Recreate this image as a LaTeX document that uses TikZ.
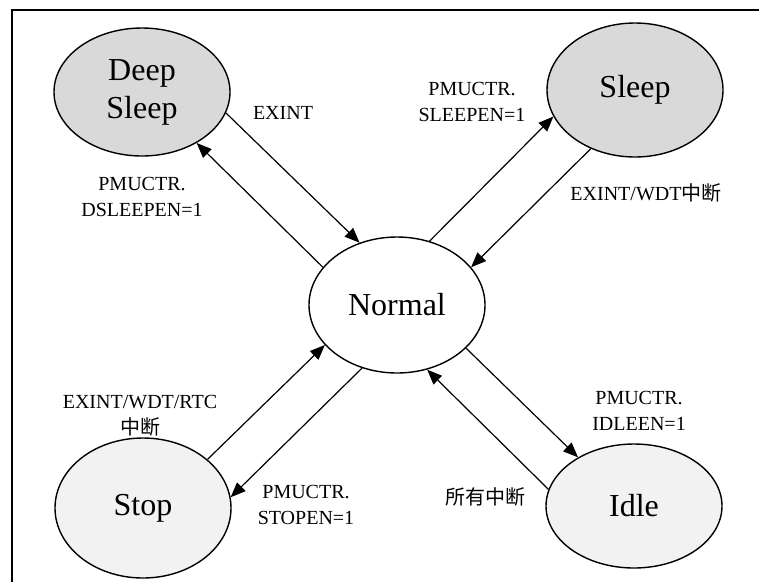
\documentclass[tikz,border=0pt]{standalone}
\usepackage{fontspec}
\setmainfont{Liberation Serif}
\newfontfamily\cjk{Noto Sans CJK SC}
\usetikzlibrary{shapes.geometric,arrows.meta}
\definecolor{darkfill}{HTML}{D9D9D9}
\definecolor{lightfill}{HTML}{F2F2F2}
\begin{document}
\begin{tikzpicture}[x=1pt,y=-1pt,
  state/.style={ellipse,draw,line width=1.4pt,inner sep=0pt,minimum width=176pt,
    minimum height=#1,font=\fontsize{32}{38}\selectfont,align=center},
  state/.default=130pt,
  lbl/.style={font=\fontsize{20}{26}\selectfont,align=center,inner sep=0pt},
  arr/.style={line width=1.2pt,-{Triangle[length=15pt,width=12pt]}}
]
\useasboundingbox (0,0) rectangle (759,582);
\draw[line width=1.5pt] (12,582) -- (12,10) -- (759,10);

\node[state=128pt,fill=darkfill] (ds) at (142,92) {Deep\\Sleep};
\node[state=134pt,fill=darkfill] (sl) at (635,90) {Sleep};
\node[state=136pt,fill=white] (n) at (397,305) {Normal};
\node[state=140pt,fill=lightfill] (st) at (143,508) {Stop};
\node[state=124pt,fill=lightfill] (id) at (634,506) {Idle};

\draw[arr] (ds.-14.4) -- (n.121);
\draw[arr] (n.153.7) -- (ds.-43.4);
\draw[arr] (n.63.8) -- (sl.198.6);
\draw[arr] (sl.-127) -- (n.27.5);
\draw[arr] (st.37) -- (n.209);
\draw[arr] (n.-119) -- (st.7);
\draw[arr] (n.-32) -- (id.139.4);
\draw[arr] (id.169) -- (n.-65);

\node[lbl] (l1) at (283,113) {EXINT};
\node[lbl] (l2) at (142,197) {PMUCTR.\\DSLEEPEN=1};
\node[lbl] (l3) at (472,102) {PMUCTR.\\SLEEPEN=1};
\node[lbl] (l4) at (646,193) {EXINT/WDT{\cjk 中断}};
\node[lbl] (l5) at (140,416) {EXINT/WDT/RTC\\{\cjk 中断}};
\node[lbl] (l6) at (306,505) {PMUCTR.\\STOPEN=1};
\node[lbl] (l7) at (639,411) {PMUCTR.\\IDLEEN=1};
\node[lbl] (l8) at (485,497) {{\cjk 所有中断}};
\end{tikzpicture}
\end{document}
